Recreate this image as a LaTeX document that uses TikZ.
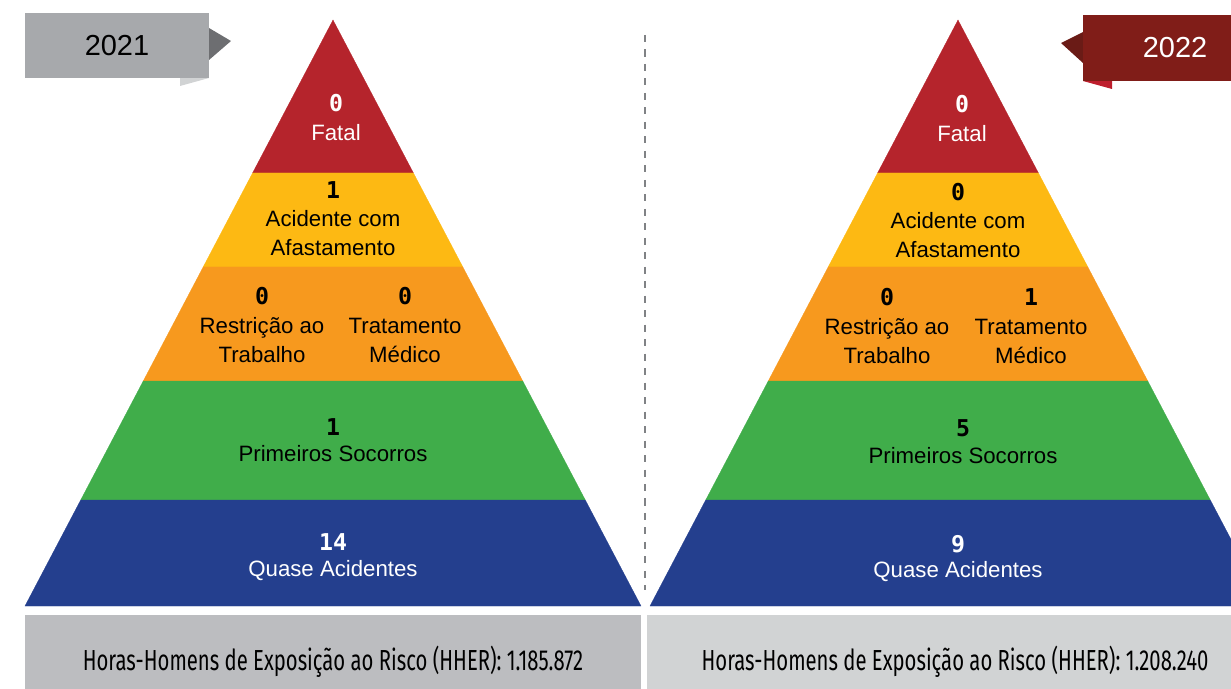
\documentclass[tikz,border=0pt]{standalone}
\usepackage{fontspec}
\setmainfont{Liberation Sans}
\newfontfamily\numfont{DejaVu Sans Mono}
\newfontfamily\hherfont[FakeStretch=0.7]{Fira Sans}

\definecolor{fatalred}{HTML}{B5242C}
\definecolor{afastyellow}{HTML}{FDB913}
\definecolor{restrorange}{HTML}{F7991E}
\definecolor{socgreen}{HTML}{40AD4A}
\definecolor{quaseblue}{HTML}{243F8E}
\definecolor{tagleft}{HTML}{A7A9AC}
\definecolor{tagleftdark}{HTML}{6D6E71}
\definecolor{tagleftfold}{HTML}{D1D3D4}
\definecolor{tagright}{HTML}{801D18}
\definecolor{tagrightdark}{HTML}{6A1B16}
\definecolor{tagrightfold}{HTML}{BE1E2D}
\definecolor{hherleft}{HTML}{BCBDC0}
\definecolor{hherright}{HTML}{D1D3D4}
\definecolor{divgrey}{HTML}{808285}

\begin{document}
\begin{tikzpicture}[x=0.025cm, y=-0.025cm]
        \tikzstyle{lbl}=[align=center, inner sep=0pt, font=\fontsize{15.8}{20.6}\selectfont]
        \tikzstyle{num}=[inner sep=0pt, font=\fontsize{16.5}{18}\selectfont\numfont\bfseries]
        \tikzstyle{yeartag}=[inner sep=0pt, minimum width=4.6cm, minimum height=1.625cm, font=\fontsize{20.6}{24}\selectfont]
        \tikzstyle{hherbox}=[inner sep=0pt, minimum width=15.4cm, minimum height=2.35cm, font=\fontsize{20.6}{24}\selectfont\hherfont]

        \useasboundingbox (0,0) rectangle (1231,689);
        \clip (0,0) rectangle (1231,689);

        % pyramids
        \foreach \cx in {333,958}{
          \begin{scope}[shift={(\cx,0)}]
            \foreach \ya/\yb/\col in {20/173/fatalred,173/267/afastyellow,267/381/restrorange,381/500/socgreen,500/606/quaseblue}
              \filldraw[fill=\col, draw=\col, line width=0.2pt] ({-0.5256*(\ya-20)},\ya) -- ({0.5256*(\ya-20)},\ya) -- ({0.5256*(\yb-20)},\yb) -- ({-0.5256*(\yb-20)},\yb) -- cycle;
          \end{scope}
        }

        % 2021
        \node[num, text=white](f1) at (336,103){0};
        \node[lbl, text=white](fl1) at (336,133){Fatal};
        \node[num](a1) at (333,190){1};
        \node[lbl](al1) at (333,233){Acidente com\\Afastamento};
        \node[num](r1) at (262,296){0};
        \node[lbl](rl1) at (262,340){Restrição ao\\Trabalho};
        \node[num](t1) at (405,296){0};
        \node[lbl](tl1) at (405,340){Tratamento\\Médico};
        \node[num](p1) at (333,427){1};
        \node[lbl](pl1) at (333,454){Primeiros Socorros};
        \node[num, text=white](q1) at (333,542){14};
        \node[lbl, text=white](ql1) at (333,571){Quase Acidentes};

        % 2022
        \node[num, text=white](f2) at (962,104){0};
        \node[lbl, text=white](fl2) at (962,134){Fatal};
        \node[num](a2) at (958,192){0};
        \node[lbl](al2) at (958,235){Acidente com\\Afastamento};
        \node[num](r2) at (887,297){0};
        \node[lbl](rl2) at (887,341){Restrição ao\\Trabalho};
        \node[num](t2) at (1031,297){1};
        \node[lbl](tl2) at (1031,341){Tratamento\\Médico};
        \node[num](p2) at (963,428){5};
        \node[lbl](pl2) at (963,456){Primeiros Socorros};
        \node[num, text=white](q2) at (958,544){9};
        \node[lbl, text=white](ql2) at (958,572){Quase Acidentes};

        % year tags
        \fill[tagleftfold] (180,78) -- (209,78) -- (180,86) -- cycle;
        \fill[tagleftdark] (209,28) -- (231,41) -- (209,60) -- cycle;
        \node[yeartag, fill=tagleft](tag21) at (117,45.5){2021};
        \fill[tagrightfold] (1083,81) -- (1112,81) -- (1112,89) -- cycle;
        \fill[tagrightdark] (1083,32) -- (1061,43) -- (1083,63) -- cycle;
        \node[yeartag, fill=tagright, text=white](tag22) at (1175,48){2022};

        % divider
        \coordinate (divtop) at (645,35);
        \coordinate (divbot) at (645,590);
        \draw[divgrey, line width=1.4pt, dash pattern=on 5pt off 5.3pt] (divtop) -- (divbot);

        % exposure hours
        \node[hherbox, fill=hherleft](hher21) at (333,662){Horas-Homens de Exposição ao Risco (HHER): 1.185.872};
        \node[hherbox, fill=hherright](hher22) at (955,662){Horas-Homens de Exposição ao Risco (HHER): 1.208.240};
\end{tikzpicture}
\end{document}
